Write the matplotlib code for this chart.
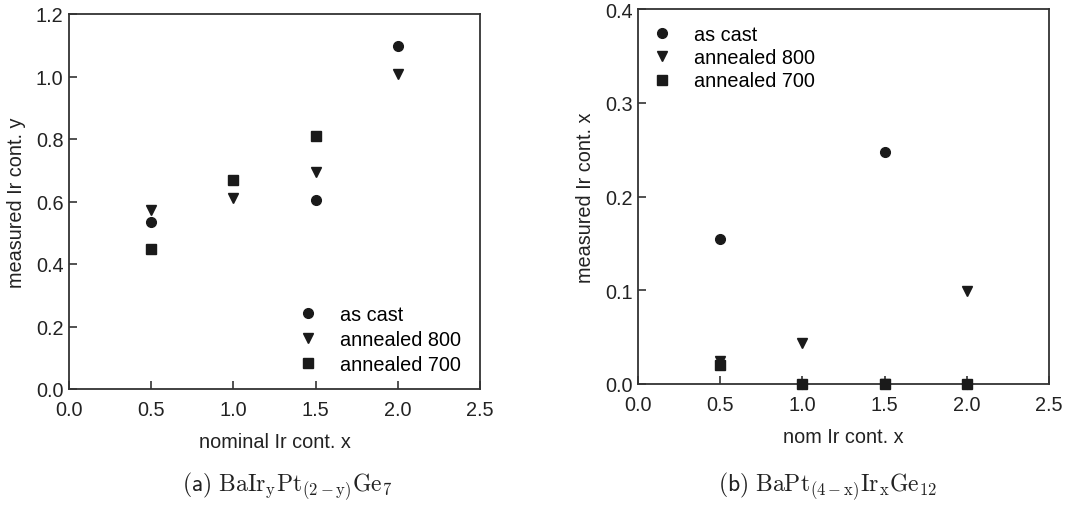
import matplotlib
matplotlib.use("Agg")
import matplotlib.pyplot as plt

plt.rcParams['font.family'] = ['Liberation Sans', 'DejaVu Sans']
plt.rcParams['mathtext.fontset'] = 'cm'

# Panel (a)
a_cast_x = [0.5, 1.5, 2.0]
a_cast_y = [0.535, 0.605, 1.097]
a_800_x = [0.5, 1.0, 1.5, 2.0]
a_800_y = [0.574, 0.610, 0.695, 1.008]
a_700_x = [0.5, 1.0, 1.5]
a_700_y = [0.448, 0.669, 0.811]

# Panel (b)
b_cast_x = [0.5, 1.0, 1.5, 2.0]
b_cast_y = [0.155, 0.0, 0.248, 0.0]
b_800_x = [0.5, 1.0, 1.5, 2.0]
b_800_y = [0.025, 0.044, 0.0, 0.099]
b_700_x = [0.5, 1.0, 1.5, 2.0]
b_700_y = [0.020, 0.0, 0.0, 0.0]

labels = ["as cast", "annealed 800", "annealed 700"]
xticks = [0.0, 0.5, 1.0, 1.5, 2.0, 2.5]

W, H = 1091, 506
fig = plt.figure(figsize=(W/100, H/100), dpi=100)
ax1 = fig.add_axes([69/W, 1-390/H, (480-69)/W, (390-15)/H])
ax2 = fig.add_axes([638/W, 1-385/H, (1049-638)/W, (385-10)/H])

mc = '#1a1a1a'
spc = '#333333'
tc = '#222222'
fs = 14.3

def style(ax):
    for s in ax.spines.values():
        s.set_color(spc)
        s.set_linewidth(1.3)
    ax.tick_params(direction='in', length=6, width=1.2, color=spc,
                   labelsize=fs, labelcolor=tc)
    ax.tick_params(axis='x', pad=8)
    ax.tick_params(axis='y', pad=4)
    ax.set_xticks(xticks)
    ax.set_xticklabels([f"{t:.1f}" for t in xticks])

def draw(ax, data):
    markers = ['o', 'v', 's']
    sizes = [7, 7.5, 6.5]
    for (x, y), m, lab, ms in zip(data, markers, labels, sizes):
        ax.plot(x, y, linestyle='none', marker=m, color=mc, markersize=ms,
                label=lab, clip_on=False, zorder=3)

leg_kw = dict(frameon=False, fontsize=fs, handletextpad=0.6, borderpad=0,
              borderaxespad=0, handlelength=2.0)

draw(ax1, [(a_cast_x, a_cast_y), (a_800_x, a_800_y), (a_700_x, a_700_y)])
ax1.set_xlim(0, 2.5)
ax1.set_ylim(0, 1.2)
ax1.set_yticks([0.0, 0.2, 0.4, 0.6, 0.8, 1.0, 1.2])
ax1.set_yticklabels(["0.0", "0.2", "0.4", "0.6", "0.8", "1.0", "1.2"])
style(ax1)
ax1.set_ylabel("measured Ir cont. y", fontsize=fs, color=tc, labelpad=7)
ax1.set_xlabel("nominal Ir cont. x", fontsize=fs, color=tc, labelpad=9)
ax1.legend(loc='lower right', bbox_to_anchor=(0.953, 0.04), labelspacing=0.3,
           **leg_kw)

draw(ax2, [(b_cast_x, b_cast_y), (b_800_x, b_800_y), (b_700_x, b_700_y)])
ax2.set_xlim(0, 2.5)
ax2.set_ylim(0, 0.4)
ax2.set_yticks([0.0, 0.1, 0.2, 0.3, 0.4])
ax2.set_yticklabels(["0.0", "0.1", "0.2", "0.3", "0.4"])
style(ax2)
ax2.set_ylabel("measured Ir cont. x", fontsize=fs, color=tc, labelpad=7)
ax2.set_xlabel("nom Ir cont. x", fontsize=fs, color=tc, labelpad=9)
ax2.legend(loc='upper left', bbox_to_anchor=(0.01, 0.958), labelspacing=0.22,
           **leg_kw)

fig.text(287/W, 1-486/H, r"$\mathsf{(a)}\ \mathrm{BaIr_yPt_{(2-y)}Ge_7}$", ha='center',
         va='center', fontsize=17, color=tc)
fig.text(828/W, 1-486/H, r"$\mathsf{(b)}\ \mathrm{BaPt_{(4-x)}Ir_xGe_{12}}$", ha='center',
         va='center', fontsize=17, color=tc)

fig.savefig("out.png", dpi=100)
